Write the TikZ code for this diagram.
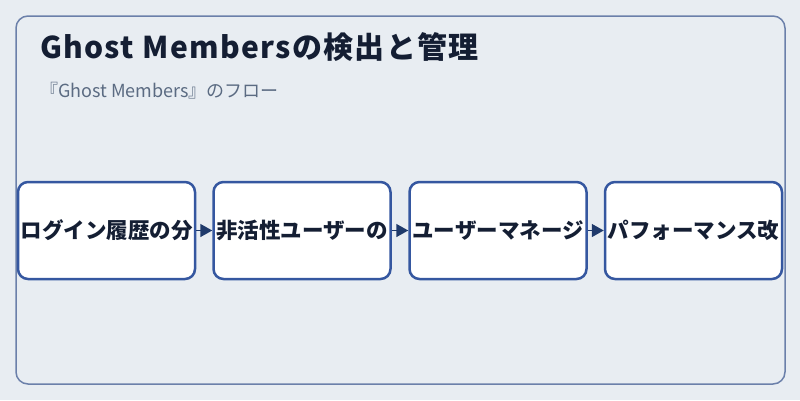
\documentclass[tikz,border=0pt]{standalone}
\usepackage{fontspec}
\setmainfont{Noto Sans CJK JP}
\newfontfamily\cjk{Noto Sans CJK JP}
\usetikzlibrary{arrows.meta}
\definecolor{pagebg}{HTML}{E8EDF2}
\definecolor{framecol}{HTML}{6B80AA}
\definecolor{boxcol}{HTML}{3557A0}
\definecolor{arrowcol}{HTML}{1F3A6B}
\definecolor{titlecol}{HTML}{141E33}
\definecolor{subcol}{HTML}{5B6B82}

\begin{document}
\begin{tikzpicture}[x=1pt, y=-1pt,
	stepbox/.style={draw=boxcol, fill=white, line width=2.5pt, rounded corners=10pt,
		minimum width=177pt, minimum height=97pt, inner sep=0pt, text=titlecol,
		font=\cjk\bfseries\fontsize{21.5}{24}\selectfont},
	flow/.style={draw=arrowcol, line width=1.5pt, -{Triangle[length=12pt,width=13pt]}, arrowcol}]
		%%%%% START %%%%%
		
		\useasboundingbox (0, 0) rectangle (800, 400);
		\fill[pagebg] (0, 0) rectangle (800, 400);
		\draw[line width=1.5pt, color=framecol, rounded corners=12pt] (16, 16) rectangle (785, 384);
		
		\node[anchor=base west, inner sep=0pt, text=titlecol, font=\cjk\bfseries\fontsize{30}{34}\selectfont\addfontfeature{LetterSpace=4.5}] (title) at (40, 58) {Ghost Membersの検出と管理};
		\node[anchor=base west, inner sep=0pt, text=subcol, font=\cjk\fontsize{18}{21}\selectfont] (subtitle) at (40, 97.5) {『Ghost Members』のフロー};
		
		\node[stepbox] (login) at (106.5, 230.5) {ログイン履歴の分};
		\node[stepbox] (inactive) at (302, 230.5) {非活性ユーザーの};
		\node[stepbox] (manage) at (498, 230.5) {ユーザーマネージ};
		\node[stepbox] (perf) at (693.5, 230.5) {パフォーマンス改};
		
		\draw[flow] (login) -- (inactive);
		\draw[flow] (inactive) -- (manage);
		\draw[flow] (manage) -- (perf);
		
		%%%%% END %%%%%
\end{tikzpicture}
\end{document}
